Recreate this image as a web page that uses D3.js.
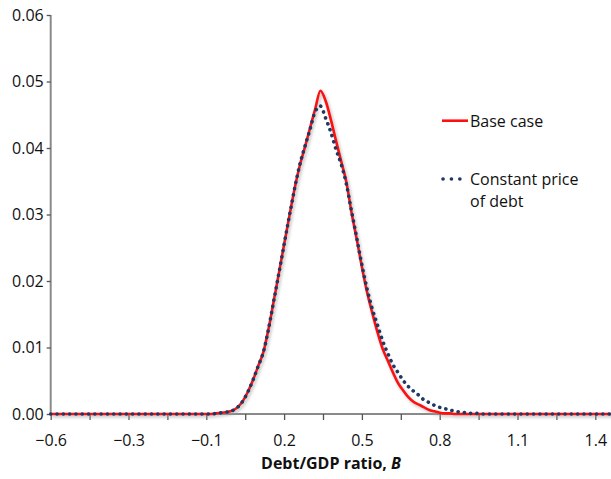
<!DOCTYPE html>
<html><head><meta charset="utf-8">
<script src="https://cdn.jsdelivr.net/npm/d3@7"></script>
<style>body{margin:0;background:#fff}svg{display:block}</style>
</head><body><svg id="c" width="611" height="479"></svg>
<script>
// Debt/GDP ratio values (x)
const ratioB = [-0.6,-0.5,-0.4,-0.3,-0.2,-0.1,-0.08,-0.06,-0.04,-0.02,0.00,0.02,0.04,0.06,0.08,0.10,0.12,0.14,0.16,0.18,0.20,0.22,0.24,0.26,0.28,0.30,0.32,0.34,0.36,0.38,0.40,0.42,0.44,0.46,0.48,0.50,0.52,0.54,0.56,0.58,0.60,0.62,0.64,0.66,0.68,0.70,0.72,0.74,0.76,0.78,0.80,0.82,0.84,0.86,0.88,0.90,0.92,0.94,0.96,1.0,1.1,1.2,1.3,1.4,1.5];
// Base case density
const baseCase = [0,0,0,0,0,0,0,0.0001,0.0002,0.0003,0.0005,0.0010,0.0019,0.0033,0.0051,0.0072,0.0093,0.0128,0.0170,0.0212,0.0255,0.0297,0.0338,0.0373,0.0401,0.0430,0.0459,0.0486,0.0471,0.0443,0.0411,0.0380,0.0349,0.0303,0.0263,0.0221,0.0183,0.0152,0.0123,0.0098,0.0080,0.0062,0.0046,0.0035,0.0025,0.0018,0.0014,0.0010,0.0006,0.0004,0.0002,0.0001,0.0001,0,0,0,0,0,0,0,0,0,0,0,0];
// Constant price of debt density
const constantPrice = [0,0,0,0,0,0,0,0.0001,0.0002,0.0003,0.0005,0.0010,0.0019,0.0033,0.0051,0.0072,0.0093,0.0128,0.0170,0.0212,0.0255,0.0297,0.0338,0.0374,0.0402,0.0428,0.0455,0.0463,0.0445,0.0424,0.0398,0.0376,0.0346,0.0305,0.0265,0.0224,0.0188,0.0158,0.0134,0.0110,0.0091,0.0074,0.0062,0.0050,0.0041,0.0034,0.0028,0.0021,0.0017,0.0013,0.0010,0.0008,0.0006,0.0004,0.0003,0.0002,0.0001,0.0001,0,0,0,0,0,0,0];

const xLabelTicks = [-0.6,-0.3,-0.1,0.2,0.5,0.8,1.1,1.4];
const xLabelText = ["\u22120.6","\u22120.3","\u22120.1","0.2","0.5","0.8","1.1","1.4"];
const xMinorTicks = [-0.45,-0.2,0.05,0.35,0.65,0.95,1.25];
const yTicks = [0,0.01,0.02,0.03,0.04,0.05,0.06];
const seriesNames = ["Base case","Constant price","of debt"];

const svg = d3.select("#c");
const FONT = "'Open Sans', sans-serif";

const x = d3.scaleLinear()
  .domain([-0.6,-0.3,-0.1,1.4,1.5])
  .range([50.7,128.5,206.3,595.3,621.2]);
const y = d3.scaleLinear().domain([0,0.06]).range([414,15]);

const defs = svg.append("defs");
defs.append("filter").attr("id","sh").attr("x","-10%").attr("y","-10%").attr("width","120%").attr("height","120%")
  .append("feGaussianBlur").attr("stdDeviation",1.6);

// axes
const xAll = xLabelTicks.concat(xMinorTicks).sort((a,b)=>a-b);
const xAxis = d3.axisBottom(x).tickValues(xAll).tickSize(6).tickPadding(15)
  .tickFormat(d => { const i = xLabelTicks.indexOf(d); return i >= 0 ? xLabelText[i] : ""; });
const gx = svg.append("g").attr("transform",`translate(0,${y(0)})`).call(xAxis);
gx.select(".domain").attr("d",`M${x(-0.6)},0H611`).attr("stroke","#8a8a8a").attr("stroke-width",2);
gx.selectAll(".tick line").attr("stroke","#555").attr("stroke-width",1.3);
gx.selectAll("text").attr("font-family",FONT).attr("font-size",16).attr("fill","#111");

const yAxis = d3.axisLeft(y).tickValues(yTicks).tickSize(4).tickPadding(3).tickFormat(d3.format(".2f"));
const gy = svg.append("g").attr("transform",`translate(${x(-0.6)},0)`).call(yAxis);
gy.select(".domain").attr("d",`M0,${y(0.06)}V${y(0)}`).attr("stroke","#8a8a8a").attr("stroke-width",2);
gy.selectAll(".tick line").attr("stroke","#555").attr("stroke-width",1.3);
gy.selectAll("text").attr("font-family",FONT).attr("font-size",16).attr("fill","#111");

// lines
const line = vals => d3.line().x((d,i)=>x(ratioB[i])).y(d=>y(d)).curve(d3.curveMonotoneX)(vals);

svg.append("path").attr("d",line(baseCase)).attr("fill","none")
  .attr("stroke","#9a9a9a").attr("stroke-width",3).attr("opacity",0.55)
  .attr("transform","translate(1.5,2)").attr("filter","url(#sh)");
svg.append("path").attr("d",line(baseCase)).attr("fill","none")
  .attr("stroke","#ff1010").attr("stroke-width",2.6).attr("stroke-linejoin","round");
svg.append("path").attr("d",line(constantPrice)).attr("fill","none")
  .attr("stroke","#1f3864").attr("stroke-width",3.6).attr("stroke-linecap","round")
  .attr("stroke-dasharray","0.1 6.2");

// legend
const lg = svg.append("g");
lg.append("line").attr("x1",442).attr("x2",468).attr("y1",120.7).attr("y2",120.7)
  .attr("stroke","#ff1010").attr("stroke-width",2.6);
lg.append("text").attr("x",470).attr("y",121).attr("dy","0.35em").text(seriesNames[0]);
lg.append("line").attr("x1",443).attr("x2",468).attr("y1",179).attr("y2",179)
  .attr("stroke","#1f3864").attr("stroke-width",3.6).attr("stroke-linecap","round").attr("stroke-dasharray","0.1 8.3");
lg.append("text").attr("x",470).attr("y",179).attr("dy","0.35em").text(seriesNames[1]);
lg.append("text").attr("x",470).attr("y",201.5).attr("dy","0.35em").text(seriesNames[2]);
lg.selectAll("text").attr("font-family",FONT).attr("font-size",16).attr("fill","#111");

// x title
const t = svg.append("text").attr("x",331).attr("y",469).attr("text-anchor","middle")
  .attr("font-family",FONT).attr("font-size",16).attr("font-weight","bold").attr("fill","#111");
t.append("tspan").text("Debt/GDP ratio, ");
t.append("tspan").attr("font-style","italic").text("B");
</script></body></html>
